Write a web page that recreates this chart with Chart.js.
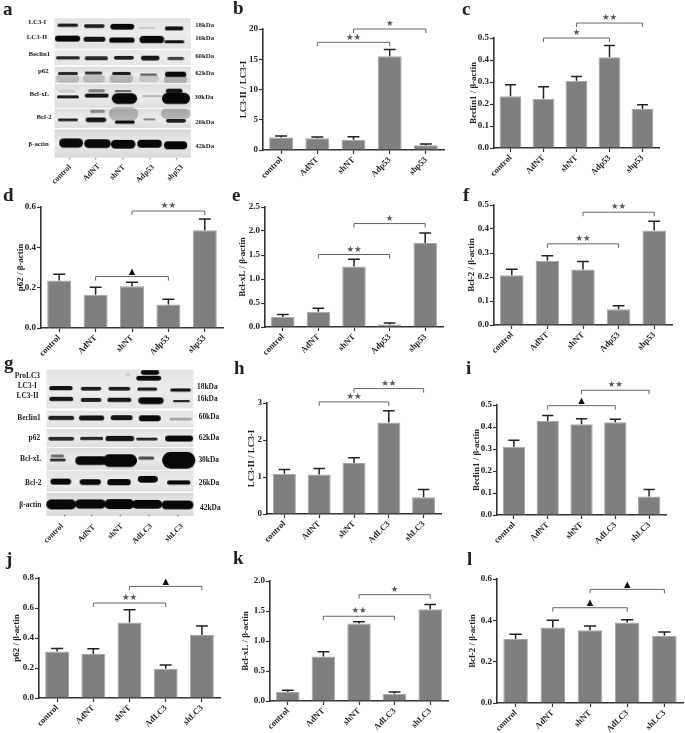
<!DOCTYPE html>
<html>
<head>
<meta charset="utf-8">
<title>LC3 p53 western blots</title>
<script src="https://cdn.jsdelivr.net/npm/chart.js@4/dist/chart.umd.min.js"></script>
<style>
  html, body { margin: 0; padding: 0; background: #fff; }
  #fig { position: relative; width: 685px; height: 733px; overflow: hidden; filter: blur(0.3px); }
  #fig canvas { position: absolute; }
  .txt { position: absolute; font-family: "Liberation Serif", serif; font-weight: bold; color: #222; white-space: nowrap; }
</style>
</head>
<body>
<div id="fig"></div>
<script>
// categories
const catsP53 = ["control", "AdNT", "shNT", "Adp53", "shp53"];
const catsLC3 = ["control", "AdNT", "shNT", "AdLC3", "shLC3"];

// bar heights
const valuesB = [2.05, 1.95, 1.7, 15.5, 0.8];
const valuesC = [0.235, 0.224, 0.306, 0.413, 0.177];
const valuesD = [0.235, 0.165, 0.207, 0.117, 0.485];
const valuesE = [0.21, 0.32, 1.26, 0.05, 1.75];
const valuesF = [0.207, 0.268, 0.231, 0.066, 0.394];
const valuesH = [1.09, 1.07, 1.38, 2.47, 0.45];
const valuesI = [0.31, 0.427, 0.412, 0.422, 0.084];
const valuesJ = [0.31, 0.293, 0.503, 0.195, 0.42];
const valuesK = [0.15, 0.74, 1.29, 0.12, 1.53];
const valuesL = [0.31, 0.365, 0.352, 0.39, 0.325];

// upper error whiskers
const errorsB = [0.25, 0.2, 0.5, 1.1, 0.2];
const errorsC = [0.053, 0.054, 0.019, 0.053, 0.02];
const errorsD = [0.032, 0.037, 0.02, 0.025, 0.055];
const errorsE = [0.05, 0.07, 0.15, 0.035, 0.21];
const errorsF = [0.025, 0.021, 0.034, 0.014, 0.038];
const errorsH = [0.11, 0.16, 0.14, 0.32, 0.21];
const errorsI = [0.03, 0.025, 0.026, 0.013, 0.032];
const errorsJ = [0.02, 0.035, 0.085, 0.025, 0.06];
const errorsK = [0.03, 0.08, 0.03, 0.03, 0.08];
const errorsL = [0.023, 0.035, 0.02, 0.013, 0.018];

// y tick labels
const ticksB = ["0", "5", "10", "15", "20"];
const ticksC = ["0.0", "0.1", "0.2", "0.3", "0.4", "0.5"];
const ticksD = ["0.0", "0.2", "0.4", "0.6"];
const ticksE = ["0.0", "0.5", "1.0", "1.5", "2.0", "2.5"];
const ticksH = ["0", "1", "2", "3"];
const ticksJ = ["0.0", "0.2", "0.4", "0.6", "0.8"];
const ticksK = ["0.0", "0.5", "1.0", "1.5", "2.0"];

// significance brackets: from category, to category, level on the y axis, mark
const bracketsB = [[1, 3, 17.8, "★★"], [2, 4, 20, "★"]];
const bracketsC = [[1, 3, 0.5, "★"], [2, 4, 0.568, "★★"]];
const bracketsD = [[1, 3, 0.255, "▲"], [2, 4, 0.58, "★★"]];
const bracketsE = [[1, 3, 1.51, "★★"], [2, 4, 2.155, "★"]];
const bracketsF = [[1, 3, 0.338, "★★"], [2, 4, 0.47, "★★"]];
const bracketsH = [[1, 3, 3.03, "★★"], [2, 4, 3.39, "★★"]];
const bracketsI = [[1, 3, 0.497, "▲"], [2, 4, 0.567, "★★"]];
const bracketsJ = [[1, 3, 0.633, "★★"], [2, 4, 0.744, "▲"]];
const bracketsK = [[1, 3, 1.412, "★★"], [2, 4, 1.772, "★"]];
const bracketsL = [[1, 3, 0.461, "▲"], [2, 4, 0.55, "▲"]];

// layout of each bar panel, in page pixels
const panels = [
  { cats: catsP53, vals: valuesB, errs: errorsB, ticks: ticksB, br: bracketsB, title: "LC3-II / LC3-I", l: 263.3, r: 444.6, t: 29.3, b: 150, gap: 19 },
  { cats: catsP53, vals: valuesC, errs: errorsC, ticks: ticksC, br: bracketsC, title: "Beclin1 / β-actin", l: 493.5, r: 658.5, t: 38.3, b: 148, gap: 20 },
  { cats: catsP53, vals: valuesD, errs: errorsD, ticks: ticksD, br: bracketsD, title: "p62 / β-actin", l: 41.2, r: 222.7, t: 206.7, b: 327.3, gap: 20.5 },
  { cats: catsP53, vals: valuesE, errs: errorsE, ticks: ticksE, br: bracketsE, title: "Bcl-xL / β-actin", l: 265.2, r: 443.5, t: 206.7, b: 327, gap: 22.5 },
  { cats: catsP53, vals: valuesF, errs: errorsF, ticks: ticksC, br: bracketsF, title: "Bcl-2 / β-actin", l: 493.5, r: 671.5, t: 205, b: 325.3, gap: 22.5 },
  { cats: catsLC3, vals: valuesH, errs: errorsH, ticks: ticksH, br: bracketsH, title: "LC3-II / LC3-I", l: 266.6, r: 440.7, t: 403.3, b: 514, gap: 15 },
  { cats: catsLC3, vals: valuesI, errs: errorsI, ticks: ticksC, br: bracketsI, title: "Beclin1 / β-actin", l: 497.4, r: 666.5, t: 404.7, b: 514.3, gap: 20.7 },
  { cats: catsLC3, vals: valuesJ, errs: errorsJ, ticks: ticksJ, br: bracketsJ, title: "p62 / β-actin", l: 39, r: 219.7, t: 578.3, b: 698, gap: 22.3 },
  { cats: catsLC3, vals: valuesK, errs: errorsK, ticks: ticksK, br: bracketsK, title: "Bcl-xL / β-actin", l: 269.5, r: 447.5, t: 581.3, b: 701.7, gap: 24.5 },
  { cats: catsLC3, vals: valuesL, errs: errorsL, ticks: ticksD, br: bracketsL, title: "Bcl-2 / β-actin", l: 497.4, r: 683.4, t: 578.7, b: 702.3, gap: 24 }
];

// blot a: strips [top, bottom, gray], bands [x, y, w, h, darkness], in 1/3 pixel units of the gel picture
const stripsA = [[42, 138, "#e2e2e2"], [143, 190, "#e6e6e6"], [195, 247, "#dcdcdc"], [250, 325, "#dedede"], [328, 388, "#dcdcdc"], [393, 482, "#d8d8d8"]];
const bandsA = [
  [197, 65, 62, 10, .9], [280, 67, 62, 11, .9], [367, 69, 72, 17, 1], [445, 72, 50, 6, .12], [530, 74, 56, 12, .95],
  [197, 106, 76, 18, 1], [280, 108, 66, 15, .95], [367, 112, 76, 16, 1], [460, 110, 74, 22, 1], [530, 116, 60, 9, .95],
  [197, 168, 72, 10, .85], [287, 168, 70, 12, .85], [372, 167, 60, 11, .9], [455, 168, 56, 14, .95], [535, 170, 50, 10, .75],
  [197, 232, 70, 24, .18], [278, 232, 66, 24, .18], [365, 232, 70, 26, .22], [450, 232, 60, 20, .12], [535, 236, 70, 22, .22],
  [197, 216, 60, 9, .85], [278, 215, 52, 8, .85], [365, 216, 56, 9, .9], [450, 221, 50, 7, .6], [535, 220, 64, 16, 1],
  [195, 272, 50, 8, .12], [287, 272, 50, 10, .45], [370, 273, 50, 7, .55], [530, 272, 50, 14, .95],
  [197, 290, 66, 9, .9], [287, 286, 72, 12, .95], [375, 296, 76, 32, 1], [460, 288, 60, 5, .25], [535, 296, 84, 34, 1],
  [372, 345, 88, 40, .25], [535, 343, 88, 30, .25], [290, 337, 44, 10, .4],
  [197, 363, 60, 8, .9], [285, 363, 62, 14, .95], [375, 371, 60, 10, 1], [452, 361, 36, 6, .45], [535, 366, 60, 11, .9],
  [207, 437, 72, 28, 1], [290, 438, 80, 26, 1], [370, 440, 74, 26, 1], [453, 438, 74, 24, 1], [535, 443, 70, 24, 1],
  [203, 487, 4, 4, .7], [285, 487, 4, 4, .7], [370, 487, 4, 4, .7], [455, 487, 4, 4, .7], [538, 487, 4, 4, .7]
];
const rowsA = [["LC3-I", 112, 65], ["LC3-II", 111, 110], ["Beclin1", 118, 163], ["p62", 130, 214], ["Bcl-xL", 118, 282], ["Bcl-2", 132, 352], ["β-actin", 116, 433]];
const sizesA = [["18kDa", 614, 75], ["16kDa", 614, 114], ["60kDa", 614, 169], ["62kDa", 614, 219], ["30kDa", 612, 291], ["26kDa", 614, 367], ["42kDa", 614, 438]];
const lanesA = [[210, 498], [298, 495], [372, 497], [458, 498], [545, 497]];

// blot g
const stripsG = [[30, 153, "#e4e4e4"], [160, 213, "#e2e2e2"], [218, 275, "#dedede"], [278, 347, "#dcdcdc"], [350, 416, "#e2e2e2"], [420, 492, "#d8d8d8"]];
const bandsG = [
  [455, 40, 55, 14, 1], [450, 58, 75, 14, 1], [385, 48, 12, 10, .1],
  [176, 90, 70, 13, .95], [270, 91, 62, 11, .9], [358, 91, 66, 11, .9], [445, 93, 60, 10, .9], [550, 96, 62, 10, .95],
  [176, 124, 72, 13, .95], [270, 126, 62, 12, .9], [358, 127, 72, 13, .95], [458, 129, 76, 20, 1], [553, 131, 50, 7, .85],
  [176, 184, 78, 13, .9], [272, 183, 76, 15, .95], [365, 182, 66, 15, .95], [453, 184, 66, 18, 1], [550, 187, 68, 8, .3],
  [176, 249, 78, 11, .85], [272, 249, 70, 10, .85], [360, 249, 86, 16, .95], [445, 250, 64, 8, .9], [545, 248, 84, 18, 1],
  [165, 303, 40, 9, .55], [165, 316, 48, 8, .85], [270, 318, 94, 26, 1], [360, 318, 102, 38, 1], [442, 311, 48, 10, .7], [545, 317, 100, 50, 1],
  [175, 384, 62, 18, 1], [268, 386, 64, 17, 1], [358, 387, 70, 19, 1], [447, 377, 60, 20, 1], [545, 388, 70, 13, 1],
  [176, 456, 90, 30, 1], [268, 456, 92, 28, 1], [358, 455, 90, 30, 1], [445, 456, 90, 26, 1], [540, 458, 96, 26, 1],
  [188, 492, 4, 4, .7], [272, 492, 4, 4, .7], [362, 492, 4, 4, .7], [452, 492, 4, 4, .7], [542, 492, 4, 4, .7]
];
const rowsG = [["ProLC3", 82, 63], ["LC3-I", 82, 92], ["LC3-II", 83, 124], ["Beclin1", 87, 190], ["p62", 103, 249], ["Bcl-xL", 92, 313], ["Bcl-2", 100, 385], ["β-actin", 91, 451]];
const sizesG = [["18kDa", 622, 96], ["16kDa", 622, 132], ["60kDa", 627, 186], ["62kDa", 627, 249], ["30kDa", 626, 314], ["26kDa", 627, 384], ["42kDa", 631, 458]];
const lanesG = [[187, 510], [282, 512], [365, 510], [452, 510], [545, 510]];

// panel letters: text, x, baseline
const letters = [["a", 3, 15], ["b", 233, 14], ["c", 462, 15], ["d", 3, 201], ["e", 232, 201], ["f", 463, 201],
  ["g", 4, 369], ["h", 234, 374], ["i", 466, 374], ["j", 6, 565], ["k", 233, 564], ["l", 467, 565]];

const fig = document.getElementById("fig");
const serif = "'Liberation Serif', serif";

function addCanvas(x, y, w, h) {
  let c = document.createElement("canvas");
  c.width = w;
  c.height = h;
  c.style.left = x + "px";
  c.style.top = y + "px";
  c.style.width = w + "px";
  c.style.height = h + "px";
  fig.appendChild(c);
  return c;
}

function addText(text, x, y, size, transform) {
  let d = document.createElement("div");
  d.className = "txt";
  d.textContent = text;
  d.style.left = x + "px";
  d.style.top = y + "px";
  d.style.fontSize = size + "px";
  d.style.lineHeight = "1";
  d.style.transform = transform;
  if (transform.indexOf("rotate") >= 0) d.style.transformOrigin = "100% 50%";
  fig.appendChild(d);
}

// whiskers and brackets are drawn from the y scale of each chart
const errorPlugin = {
  id: "errorBars",
  afterDatasetsDraw(chart, args, opts) {
    let ctx = chart.ctx, x = chart.scales.x, y = chart.scales.y;
    let half = x.width / 5 * 0.165;
    ctx.save();
    ctx.strokeStyle = "#222";
    ctx.lineWidth = 1.5;
    opts.errs.forEach((e, i) => {
      let px = x.getPixelForValue(i);
      let y0 = y.getPixelForValue(opts.vals[i]);
      let y1 = y.getPixelForValue(opts.vals[i] + e);
      ctx.beginPath();
      ctx.moveTo(px, y0);
      ctx.lineTo(px, y1);
      ctx.moveTo(px - half, y1);
      ctx.lineTo(px + half, y1);
      ctx.stroke();
    });
    ctx.restore();
  }
};

const bracketPlugin = {
  id: "brackets",
  afterDraw(chart, args, opts) {
    let ctx = chart.ctx, x = chart.scales.x, y = chart.scales.y;
    ctx.save();
    opts.list.forEach(b => {
      let x0 = x.getPixelForValue(b[0]);
      let x1 = x.getPixelForValue(b[1]);
      let py = y.getPixelForValue(b[2]);
      ctx.strokeStyle = "#666";
      ctx.lineWidth = 1;
      ctx.beginPath();
      ctx.moveTo(x0, py + 4);
      ctx.lineTo(x0, py);
      ctx.lineTo(x1, py);
      ctx.lineTo(x1, py + 4);
      ctx.stroke();
      ctx.textAlign = "center";
      ctx.textBaseline = "middle";
      ctx.fillStyle = b[3] == "▲" ? "#111" : "#555";
      ctx.font = "8.5px 'DejaVu Sans'";
      ctx.fillText(b[3], (x0 + x1) / 2, py - 5);
    });
    ctx.restore();
  }
};

const stripPlugin = {
  id: "strips",
  beforeDatasetsDraw(chart, args, opts) {
    let ctx = chart.ctx, x = chart.scales.x, y = chart.scales.y;
    opts.list.forEach(s => {
      let grad = ctx.createLinearGradient(0, y.getPixelForValue(s[0]), 0, y.getPixelForValue(s[1]));
      grad.addColorStop(0, s[2]);
      grad.addColorStop(0.5, "#ececec");
      grad.addColorStop(1, s[2]);
      ctx.fillStyle = grad;
      ctx.fillRect(x.getPixelForValue(opts.x0), y.getPixelForValue(s[0]),
        x.getPixelForValue(opts.x1) - x.getPixelForValue(opts.x0), y.getPixelForValue(s[1]) - y.getPixelForValue(s[0]));
    });
  }
};

function bandSprite(w, h, dark) {
  let pad = 3;
  let c = document.createElement("canvas");
  c.width = Math.ceil(w / 3) + pad * 2;
  c.height = Math.ceil(h / 3) + pad * 2;
  let g = c.getContext("2d");
  g.filter = "blur(0.7px)";
  g.fillStyle = "rgba(8,8,8," + dark + ")";
  g.beginPath();
  g.roundRect(pad, pad, w / 3, h / 3, Math.min(w, h) / 6);
  g.fill();
  return c;
}

function drawBlot(top, strips, bands, x0, x1, rows, sizes, lanes, cats, rowSize, laneSize) {
  let c = addCanvas(0, top, 240, 200);
  new Chart(c.getContext("2d"), {
    type: "scatter",
    data: {
      datasets: [{
        data: bands.map(b => ({ x: b[0], y: b[1] })),
        pointStyle: bands.map(b => bandSprite(b[2], b[3], b[4]))
      }]
    },
    options: {
      responsive: false,
      animation: false,
      devicePixelRatio: 1,
      layout: { padding: 0 },
      scales: {
        x: { type: "linear", min: 0, max: 720, display: false },
        y: { type: "linear", min: 0, max: 600, reverse: true, display: false }
      },
      plugins: {
        legend: { display: false },
        tooltip: { enabled: false },
        strips: { list: strips, x0: x0, x1: x1 }
      }
    },
    plugins: [stripPlugin]
  });
  rows.forEach(r => addText(r[0], r[1] / 3, top + r[2] / 3, rowSize, "translate(-50%,-50%)"));
  sizes.forEach(r => addText(r[0], r[1] / 3, top + r[2] / 3, rowSize, "translate(-50%,-50%)"));
  lanes.forEach((p, i) => addText(cats[i], p[0] / 3, top + p[1] / 3, laneSize, "translate(-100%,-50%) rotate(-45deg)"));
}

function drawPanel(p) {
  let ml = 34, mt = 24, mr = 8, mb = 45;
  let c = addCanvas(p.l - ml, p.t - mt, Math.round(p.r - p.l) + ml + mr, Math.round(p.b - p.t) + mt + mb);
  let tickFont = { family: serif, size: 9, weight: "bold" };
  let values = p.ticks.map(Number);
  new Chart(c.getContext("2d"), {
    type: "bar",
    data: {
      labels: p.cats,
      datasets: [{
        data: p.vals,
        backgroundColor: "#7f7f7f",
        borderColor: "#a6a6a6",
        borderWidth: 1,
        barPercentage: 0.66,
        categoryPercentage: 1
      }]
    },
    options: {
      responsive: false,
      animation: false,
      devicePixelRatio: 1,
      layout: { padding: { top: mt, right: mr, left: 0, bottom: 0 } },
      scales: {
        x: {
          afterFit(s) { s.height = mb; },
          grid: { offset: false, drawOnChartArea: false, tickLength: 4, tickColor: "#333", tickWidth: 1.2 },
          border: { color: "#333", width: 1.6 },
          ticks: { font: { family: serif, size: 8.5, weight: "bold" }, color: "#222", minRotation: 45, maxRotation: 45, autoSkip: false, padding: 1 }
        },
        y: {
          min: 0,
          max: values[values.length - 1],
          afterFit(s) { s.width = ml; },
          afterBuildTicks(s) { s.ticks = values.map(v => ({ value: v })); },
          grid: { drawOnChartArea: false, tickLength: 4, tickColor: "#333", tickWidth: 1.2 },
          border: { color: "#333", width: 1.6 },
          ticks: { font: tickFont, color: "#222", padding: 1, callback: (v, i) => p.ticks[i] },
          title: {
            display: true,
            text: p.title,
            font: tickFont,
            color: "#222",
            padding: { top: ml - p.gap - 5.4, bottom: 0 }
          }
        }
      },
      plugins: {
        legend: { display: false },
        tooltip: { enabled: false },
        errorBars: { vals: p.vals, errs: p.errs },
        brackets: { list: p.br }
      }
    },
    plugins: [errorPlugin, bracketPlugin]
  });
}

drawBlot(0, stripsA, bandsA, 155, 582, rowsA, sizesA, lanesA, catsP53, 6.8, 7.8);
drawBlot(355, stripsG, bandsG, 130, 590, rowsG, sizesG, lanesG, catsLC3, 7.4, 7.8);
panels.forEach(drawPanel);
letters.forEach(l => addText(l[0], l[1], l[2] - 16, 19, "none"));
</script>
</body>
</html>
